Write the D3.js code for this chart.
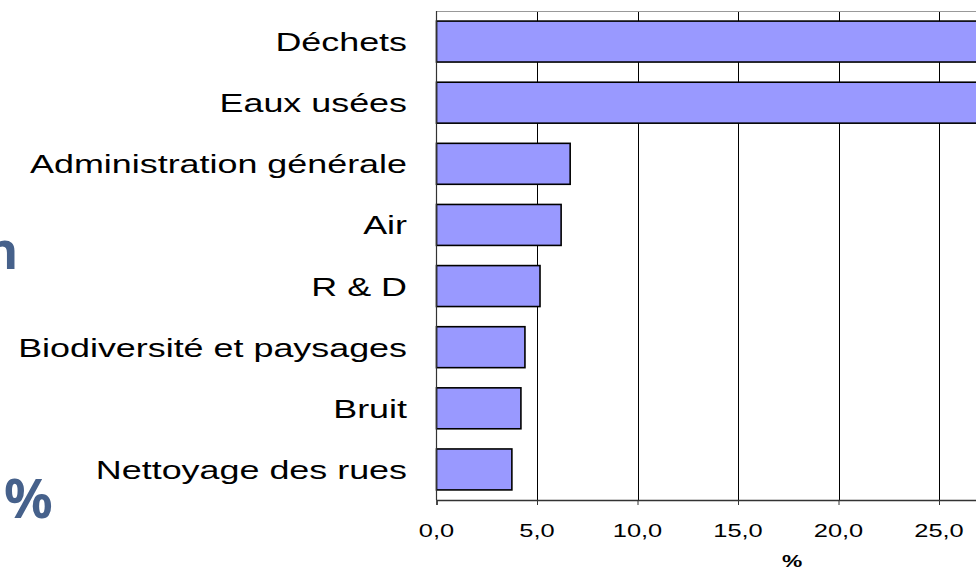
<!DOCTYPE html>
<html>
<head>
<meta charset="utf-8">
<script src="https://cdn.jsdelivr.net/npm/d3@7"></script>
<style>
  body { margin: 0; background: #fff; }
  svg { display: block; }
</style>
</head>
<body>
<svg id="chart" width="976" height="571"></svg>
<script>
// chart data
var categories = ['Déchets', 'Eaux usées', 'Administration générale', 'Air', 'R & D',
                  'Biodiversité et paysages', 'Bruit', 'Nettoyage des rues'];
var values = [33.5, 29.5, 6.65, 6.2, 5.15, 4.4, 4.2, 3.75];
var tickValues = [0, 5, 10, 15, 20, 25];
var axisTitle = '%';
var slideText = ['n', '%'];

var svg = d3.select('#chart');
var stretch = 1.38;   // the source picture is stretched sideways

var x = d3.scaleLinear().domain([0, 35]).range([436.5, 436.5 + 35 * 20.1]);
var y = d3.scaleBand().domain(categories).range([11, 500]).paddingInner(0.33).paddingOuter(0.165);

var fr = d3.formatLocale({ decimal: ',', thousands: ' ', grouping: [3], currency: ['', ''] });
var fmt = fr.format('.1f');

// slide leftovers behind the chart
svg.append('text').attr('x', 18).attr('y', 269).attr('text-anchor', 'end')
  .style('font-family', 'Noto Sans').style('font-weight', 'bold').style('font-size', '50px')
  .style('fill', '#46618b').text(slideText[0]);
svg.append('text').attr('x', 4).attr('y', 518)
  .style('font-family', 'Noto Sans').style('font-weight', 'bold').style('font-size', '54px')
  .style('fill', '#46618b').text(slideText[1]);

var plot = svg.append('g');

// grid lines
plot.selectAll('line.grid').data(d3.range(5, 36, 5)).enter()
  .append('line').attr('class', 'grid')
  .attr('x1', function(d){ return Math.round(x(d)) + 0.5; })
  .attr('x2', function(d){ return Math.round(x(d)) + 0.5; })
  .attr('y1', 11).attr('y2', 500)
  .style('stroke', '#000').style('stroke-width', 1);

// top border
plot.append('line').attr('x1', x(0)).attr('x2', 976).attr('y1', 11.5).attr('y2', 11.5)
  .style('stroke', '#999').style('stroke-width', 1);

// bars
plot.selectAll('rect.bar').data(values).enter()
  .append('rect').attr('class', 'bar')
  .attr('x', x(0))
  .attr('y', function(d, i){ return y(categories[i]); })
  .attr('width', function(d){ return x(d) - x(0); })
  .attr('height', y.bandwidth())
  .style('fill', '#9999ff').style('stroke', '#000').style('stroke-width', 1.6);

// left axis line
plot.append('line').attr('x1', x(0)).attr('x2', x(0)).attr('y1', 11).attr('y2', 500)
  .style('stroke', '#333').style('stroke-width', 1.2);

// bottom axis
var xAxis = d3.axisBottom(x).tickValues(d3.range(0, 36, 5)).tickSize(5).tickFormat('');
var gx = plot.append('g').attr('transform', 'translate(0,500)').call(xAxis);
gx.select('.domain').style('stroke', '#333').style('stroke-width', 1.5);
gx.selectAll('.tick line').style('stroke', '#333');

// tick labels, stretched like the source
plot.selectAll('g.tlab').data(tickValues).enter()
  .append('g').attr('class', 'tlab')
  .attr('transform', function(d){ return 'translate(' + x(d) + ',537) scale(' + 1.34 + ',1)'; })
  .append('text').attr('text-anchor', 'middle')
  .style('font-family', 'Liberation Sans').style('font-size', '19px').style('fill', '#000')
  .text(function(d){ return fmt(d); });

// axis title
svg.append('g').attr('transform', 'translate(792,567) scale(' + 1.34 + ',1)')
  .append('text').attr('text-anchor', 'middle')
  .style('font-family', 'Liberation Sans').style('font-weight', 'bold').style('font-size', '17px')
  .text(axisTitle);

// category labels
svg.selectAll('g.clab').data(categories).enter()
  .append('g').attr('class', 'clab')
  .attr('transform', function(d){ return 'translate(407,' + (y(d) + y.bandwidth() / 2 + 9.5) + ') scale(' + stretch + ',1)'; })
  .append('text').attr('text-anchor', 'end')
  .style('font-family', 'Liberation Sans').style('font-size', '26px').style('fill', '#000')
  .text(function(d){ return d; });
</script>
</body>
</html>
